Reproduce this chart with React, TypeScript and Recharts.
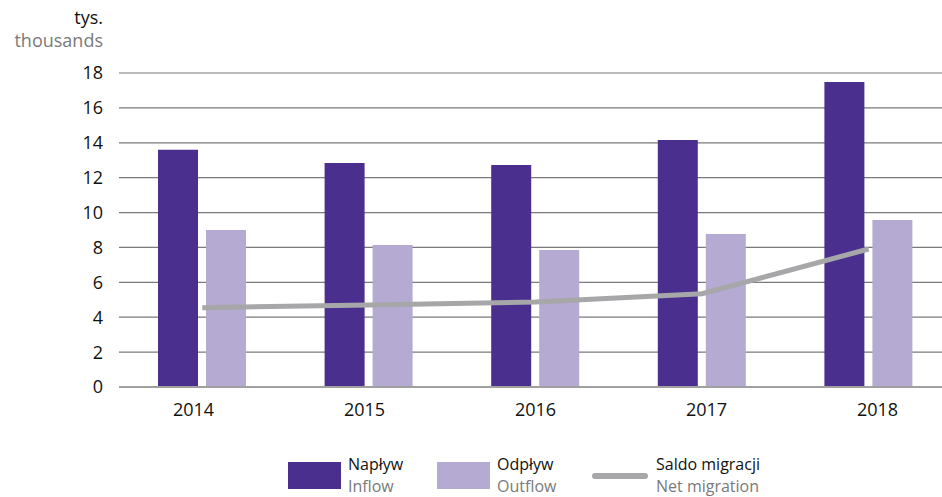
import { Bar, CartesianGrid, ComposedChart, Line, XAxis, YAxis } from "recharts";

const lata = ["2014", "2015", "2016", "2017", "2018"];
const naplyw = [13.6, 12.84, 12.73, 14.16, 17.48];
const odplyw = [9.0, 8.14, 7.86, 8.77, 9.57];
const saldo = [4.55, 4.7, 4.87, 5.35, 7.91];
const yTicks = [0, 2, 4, 6, 8, 10, 12, 14, 16, 18];

const dane = lata.map((rok, i) => ({
  rok,
  naplyw: naplyw[i],
  odplyw: odplyw[i],
  saldo: saldo[i],
}));

const FONT = "'Open Sans', 'Noto Sans', sans-serif";
const FIOLET = "#4a2f8e";
const LILA = "#b4aad2";
const SZARY = "#a7a7a9";

function RokTick(props: any) {
  const { x, y, payload, index } = props;
  // etykiety w oryginale są rozstawione trochę szerzej niż słupki
  const dx = (index - 2) * 4.4;
  return (
    <text x={x + dx} y={y} dy="0.71em" textAnchor="middle" fontSize={18} fill="#111" fontFamily={FONT}>
      {payload.value}
    </text>
  );
}

function Legenda() {
  const item = (sw: React.ReactNode, pl: string, en: string, left: number, txt: number) => (
    <div key={pl} style={{ position: "absolute", left, top: 0 }}>
      <div style={{ position: "absolute", left: 0, top: 0 }}>{sw}</div>
      <div style={{ position: "absolute", left: txt, top: -9, lineHeight: "22px", fontSize: 16, whiteSpace: "nowrap" }}>
        <div style={{ color: "#111" }}>{pl}</div>
        <div style={{ color: "#7a7a7a" }}>{en}</div>
      </div>
    </div>
  );
  return (
    <div style={{ position: "absolute", left: 0, top: 462, width: 942, height: 35, fontFamily: FONT }}>
      {item(<div style={{ width: 53, height: 27, background: FIOLET }} />, "Napływ", "Inflow", 288, 60)}
      {item(<div style={{ width: 53, height: 27, background: LILA }} />, "Odpływ", "Outflow", 437, 60)}
      {item(
        <div style={{ width: 56, height: 6, marginTop: 11, borderRadius: 3, background: SZARY }} />,
        "Saldo migracji",
        "Net migration",
        592,
        64
      )}
    </div>
  );
}

export default function App() {
  return (
    <div
      style={{
        position: "fixed",
        left: 0,
        top: 0,
        width: 942,
        height: 497,
        overflow: "hidden",
        background: "#fff",
        fontFamily: FONT,
      }}
    >
      <div style={{ position: "absolute", right: 942 - 103, top: 6, textAlign: "right", fontSize: 18, lineHeight: "23px" }}>
        <div style={{ color: "#111" }}>tys.</div>
        <div style={{ color: "#7a7a7a" }}>thousands</div>
      </div>
      <ComposedChart
        width={960}
        height={497}
        data={dane}
        margin={{ top: 73, right: 8, bottom: 80, left: 0 }}
        barSize={40}
        barGap={8}
      >
        <CartesianGrid vertical={false} stroke="#7a7a7a" strokeWidth={1.2} />
        <XAxis
          dataKey="rok"
          height={30}
          axisLine={{ stroke: "#a0a0a0", strokeWidth: 2 }}
          tickLine={false}
          tickSize={0}
          tickMargin={16}
          tick={<RokTick />}
          interval={0}
        />
        <YAxis
          width={119}
          domain={[0, 18]}
          ticks={yTicks}
          axisLine={false}
          tickLine={false}
          tickSize={0}
          tickMargin={16}
          tick={{ fontSize: 18, fill: "#111", fontFamily: FONT }}
        />
        <Bar dataKey="naplyw" name="Napływ" fill={FIOLET} isAnimationActive={false} />
        <Bar dataKey="odplyw" name="Odpływ" fill={LILA} isAnimationActive={false} />
        <Line
          dataKey="saldo"
          name="Saldo migracji"
          type="linear"
          stroke={SZARY}
          strokeWidth={5}
          dot={false}
          activeDot={false}
          isAnimationActive={false}
        />
      </ComposedChart>
      <Legenda />
    </div>
  );
}
